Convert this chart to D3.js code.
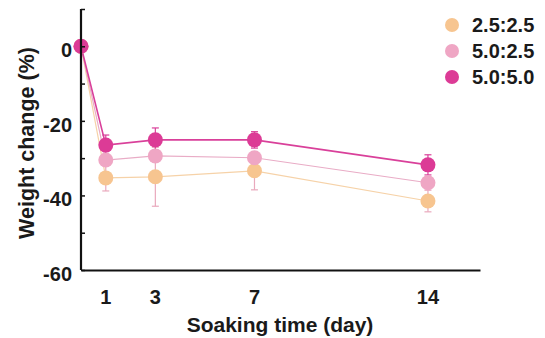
<!DOCTYPE html>
<html>
<head>
<meta charset="utf-8">
<script src="https://cdn.jsdelivr.net/npm/d3@7"></script>
<style>
  body { margin: 0; background: #fff; }
  text { font-family: "Liberation Sans", Arial, sans-serif; font-weight: bold; fill: #1a1a1a; }
</style>
</head>
<body>
<svg id="chart" width="545" height="338"></svg>
<script>
var days = [0, 1, 3, 7, 14];
var dayTicks = [1, 3, 7, 14];
var yTicks = [0, -20, -40, -60];
var seriesNames = ['2.5:2.5', '5.0:2.5', '5.0:5.0'];

var vals_25_25 = [0, -35.3, -35.0, -33.4, -41.5];
var err_25_25  = [0, 3.5, 7.9, 5.1, 2.9];
var vals_50_25 = [0, -30.5, -29.4, -29.9, -36.6];
var err_50_25  = [0, 1.5, 1.5, 1.5, 1.5];
var vals_50_50 = [0, -26.5, -25.1, -25.1, -31.8];
var err_50_50  = [0, 2.7, 3.2, 2.2, 2.7];

var svg = d3.select('#chart');

var x = d3.scaleLinear().domain([0, 16.1]).range([81, 480]);
var y = d3.scaleLinear().domain([-60, 10]).range([270, 9]);

var series = [
  { name: seriesNames[0], vals: vals_25_25, err: err_25_25, fill: '#f7c590', line: '#f6d2a8', lw: 1.2, errColor: '#e9a9bd' },
  { name: seriesNames[1], vals: vals_50_25, err: err_50_25, fill: '#efa6c4', line: '#e9acc6', lw: 1.2, errColor: '#e9a9c4' },
  { name: seriesNames[2], vals: vals_50_50, err: err_50_50, fill: '#dc3b96', line: '#d9409a', lw: 1.6, errColor: '#d9409a' }
];

// error bars first so markers sit on top
series.forEach(function(s) {
  var g = svg.append('g');
  days.forEach(function(d, i) {
    if (!s.err[i]) return;
    var cx = x(d), y1 = y(s.vals[i] + s.err[i]), y2 = y(s.vals[i] - s.err[i]);
    g.append('line').attr('x1', cx).attr('x2', cx).attr('y1', y1).attr('y2', y2)
      .attr('stroke', s.errColor).attr('stroke-width', 1.2);
    [y1, y2].forEach(function(yy) {
      g.append('line').attr('x1', cx - 3.5).attr('x2', cx + 3.5).attr('y1', yy).attr('y2', yy)
        .attr('stroke', s.errColor).attr('stroke-width', 1.2);
    });
  });
});

var line = d3.line()
  .x(function(d) { return x(d[0]); })
  .y(function(d) { return y(d[1]); });

series.forEach(function(s) {
  svg.append('path')
    .datum(days.map(function(d, i) { return [d, s.vals[i]]; }))
    .attr('d', line)
    .attr('fill', 'none')
    .attr('stroke', s.line)
    .attr('stroke-width', s.lw);
});

series.forEach(function(s) {
  svg.append('g').selectAll('circle')
    .data(days.map(function(d, i) { return [d, s.vals[i]]; }))
    .enter().append('circle')
    .attr('cx', function(d) { return x(d[0]); })
    .attr('cy', function(d) { return y(d[1]); })
    .attr('r', 7.5)
    .attr('fill', s.fill);
});

// y axis, ticks point inward
var yAxis = svg.append('g')
  .attr('transform', 'translate(' + x(0) + ',0)')
  .call(d3.axisRight(y).tickValues(d3.range(-60, 11, 10)).tickSize(4).tickFormat(''));
yAxis.select('.domain').attr('stroke', '#111').attr('stroke-width', 2.2).attr('d', 'M0,' + y(10) + 'V' + y(-60));
yAxis.selectAll('.tick line').attr('stroke', '#111').attr('stroke-width', 1.5);

svg.append('g').selectAll('text')
  .data(yTicks)
  .enter().append('text')
  .attr('x', 72)
  .attr('y', function(d) { return y(d) + 4; })
  .attr('dy', '0.35em')
  .attr('text-anchor', 'end')
  .style('font-size', '20px')
  .text(function(d) { return d; });

// x axis
var xAxis = svg.append('g')
  .attr('transform', 'translate(0,' + y(-60) + ')')
  .call(d3.axisBottom(x).tickValues([]).tickSizeOuter(0));
xAxis.select('.domain').attr('stroke', '#111').attr('stroke-width', 2.2);

svg.append('g').selectAll('text')
  .data(dayTicks)
  .enter().append('text')
  .attr('x', function(d) { return x(d); })
  .attr('y', 304)
  .attr('text-anchor', 'middle')
  .style('font-size', '20px')
  .text(function(d) { return d; });

svg.append('text')
  .attr('x', 280)
  .attr('y', 332)
  .attr('text-anchor', 'middle')
  .style('font-size', '21px')
  .text('Soaking time (day)');

svg.append('text')
  .attr('transform', 'translate(33.5,143) rotate(-90)')
  .attr('text-anchor', 'middle')
  .style('font-size', '21.5px')
  .text('Weight change (%)');

// legend
var legend = svg.append('g').selectAll('g')
  .data(series)
  .enter().append('g')
  .attr('transform', function(d, i) { return 'translate(452,' + (25 + i * 26) + ')'; });
legend.append('circle').attr('r', 7).attr('fill', function(d) { return d.fill; });
legend.append('text')
  .attr('x', 20)
  .attr('dy', '0.36em')
  .style('font-size', '20px')
  .text(function(d) { return d.name; });
</script>
</body>
</html>
